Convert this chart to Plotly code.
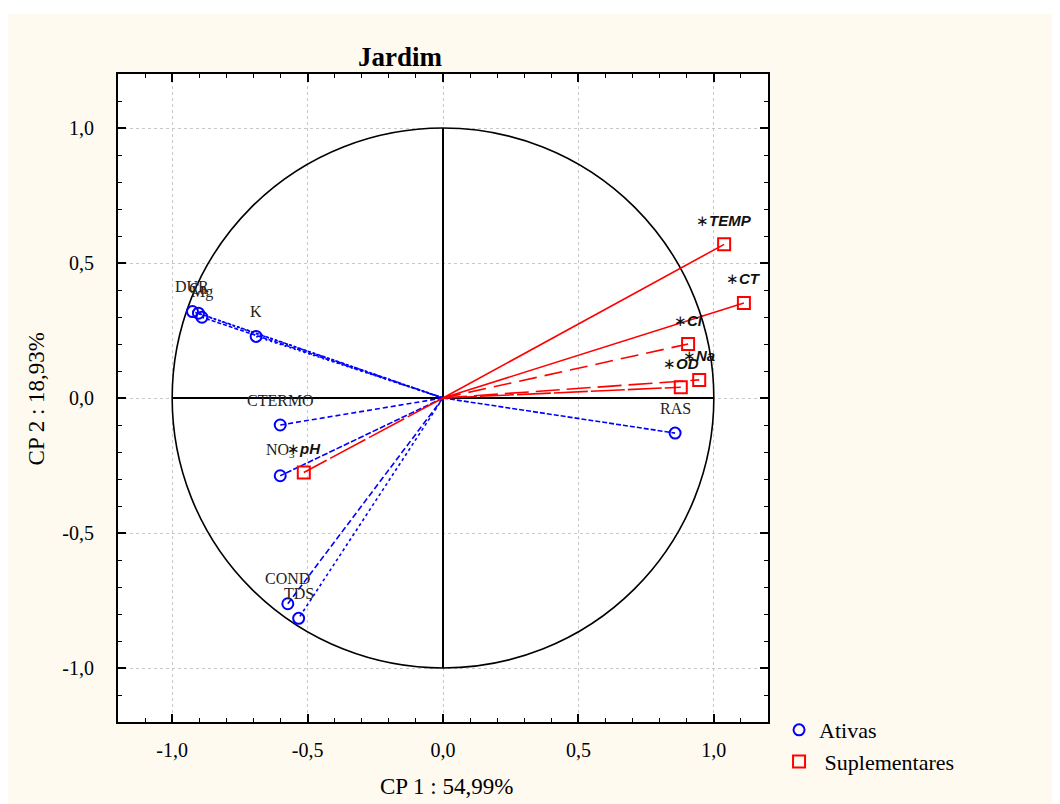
import plotly.graph_objects as go

# ---- data ----
act_names = ["DUR", "Ca", "Mg", "K", "CTERMO", "NO<sub>3</sub>", "COND", "TDS", "RAS"]
act_x = [-0.925, -0.903, -0.890, -0.690, -0.601, -0.601, -0.573, -0.533, 0.857]
act_y = [0.320, 0.314, 0.299, 0.228, -0.100, -0.288, -0.762, -0.816, -0.130]

sup_names = ["TEMP", "CT", "Cl", "Na", "OD", "pH"]
sup_x = [1.038, 1.111, 0.905, 0.946, 0.878, -0.514]
sup_y = [0.569, 0.352, 0.200, 0.067, 0.040, -0.276]

tick_vals = [-1.0, -0.5, 0.0, 0.5, 1.0]
tick_text = ["-1,0", "-0,5", "0,0", "0,5", "1,0"]

title_text = "Jardim"
x_title = "CP 1 : 54,99%"
y_title = "CP 2 : 18,93%"

# ---- styles ----
BLUE = "#0000FF"
RED = "#FF0000"
CREAM = "#FFFAF0"
SERIF = "Liberation Serif, Times New Roman, serif"
SANS = "Liberation Sans, Arial, sans-serif"

act_dash = ["2px,2px", "3px,2px", "4px,2px", "2px,3px", "5px,3px",
            "6px,2px", "6px,3px", "3px,3px", "5px,2px"]
sup_dash = ["solid", "solid", "18px,8px", "24px,7px", "34px,3px", "40px,4px"]

fig = go.Figure()

# vectors
for i in range(len(act_names)):
    fig.add_trace(go.Scatter(x=[0, act_x[i]], y=[0, act_y[i]], mode="lines",
                             line=dict(color=BLUE, width=1.6, dash=act_dash[i]),
                             showlegend=False, hoverinfo="skip"))
for i in range(len(sup_names)):
    fig.add_trace(go.Scatter(x=[0, sup_x[i]], y=[0, sup_y[i]], mode="lines",
                             line=dict(color=RED, width=1.6, dash=sup_dash[i]),
                             showlegend=False, hoverinfo="skip"))

# markers
fig.add_trace(go.Scatter(x=act_x, y=act_y, mode="markers", name="Ativas",
                         marker=dict(symbol="circle-open", size=11, color=BLUE,
                                     line=dict(width=2, color=BLUE))))
fig.add_trace(go.Scatter(x=sup_x, y=sup_y, mode="markers", name=" Suplementares",
                         marker=dict(symbol="square-open", size=12, color=RED,
                                     line=dict(width=2, color=RED))))

annotations = []
for n, x, y in zip(act_names, act_x, act_y):
    annotations.append(dict(x=x, y=y, text=n, showarrow=False, yshift=25,
                            xanchor="center", yanchor="middle",
                            font=dict(family=SERIF, size=16, color="#222222")))
for n, x, y in zip(sup_names, sup_x, sup_y):
    annotations.append(dict(x=x, y=y,
                            text="\u2217<b><i>" + n + "</i></b>",
                            showarrow=False, yshift=24, xanchor="center", yanchor="middle",
                            font=dict(family=SANS, size=15, color="#111111")))

annotations.append(dict(xref="paper", yref="paper", x=0.506, y=-0.099, text=x_title,
                        showarrow=False, xanchor="center", yanchor="middle",
                        font=dict(family=SERIF, size=23, color="black")))
annotations.append(dict(xref="paper", yref="paper", x=-0.125, y=0.499, text=y_title,
                        showarrow=False, xanchor="center", yanchor="middle", textangle=-90,
                        font=dict(family=SERIF, size=23, color="black")))

shapes = [
    # white strip above the cream panel
    dict(type="rect", xref="paper", yref="paper", x0=-0.3, x1=1.6, y0=1.0926, y1=1.3,
         fillcolor="white", line=dict(width=0), layer="below"),
    # unit circle and axes
    dict(type="circle", xref="x", yref="y", x0=-1, y0=-1, x1=1, y1=1,
         line=dict(color="black", width=1.6), layer="between"),
    dict(type="line", xref="x", yref="y", x0=-1, y0=0, x1=1, y1=0,
         line=dict(color="black", width=2), layer="between"),
    dict(type="line", xref="x", yref="y", x0=0, y0=-1, x1=0, y1=1,
         line=dict(color="black", width=2), layer="between"),
]

axis_common = dict(
    range=[-1.2, 1.2], tickmode="array", tickvals=tick_vals, ticktext=tick_text,
    ticks="inside", ticklen=8, tickwidth=1.5, tickcolor="black",
    showline=True, linecolor="black", linewidth=2, mirror="ticks",
    showgrid=True, gridcolor="#C8C8C8", griddash="dot", gridwidth=1,
    zeroline=False,
    tickfont=dict(family=SERIF, size=20, color="black"),
    minor=dict(tickmode="linear", tick0=0, dtick=0.1, ticks="inside", ticklen=4,
               tickwidth=1, tickcolor="black", showgrid=False),
)

fig.update_layout(
    width=1060, height=804,
    margin=dict(l=110, r=300, t=66, b=90),
    paper_bgcolor=CREAM, plot_bgcolor="white",
    title=dict(text="<b>" + title_text + "</b>", x=0.434, xref="paper", xanchor="center",
               y=0.94, yref="container", yanchor="middle",
               font=dict(family=SERIF, size=27, color="black")),
    xaxis=dict(axis_common, ticklabelstandoff=9),
    yaxis=dict(axis_common, ticklabelstandoff=18),
    showlegend=True,
    legend=dict(x=1.017, y=0.02, xanchor="left", yanchor="top",
                bgcolor="rgba(0,0,0,0)", font=dict(family=SERIF, size=22, color="black"),
                itemwidth=30, tracegroupgap=0),
    annotations=annotations,
    shapes=shapes,
)

fig.write_html("out.html")
